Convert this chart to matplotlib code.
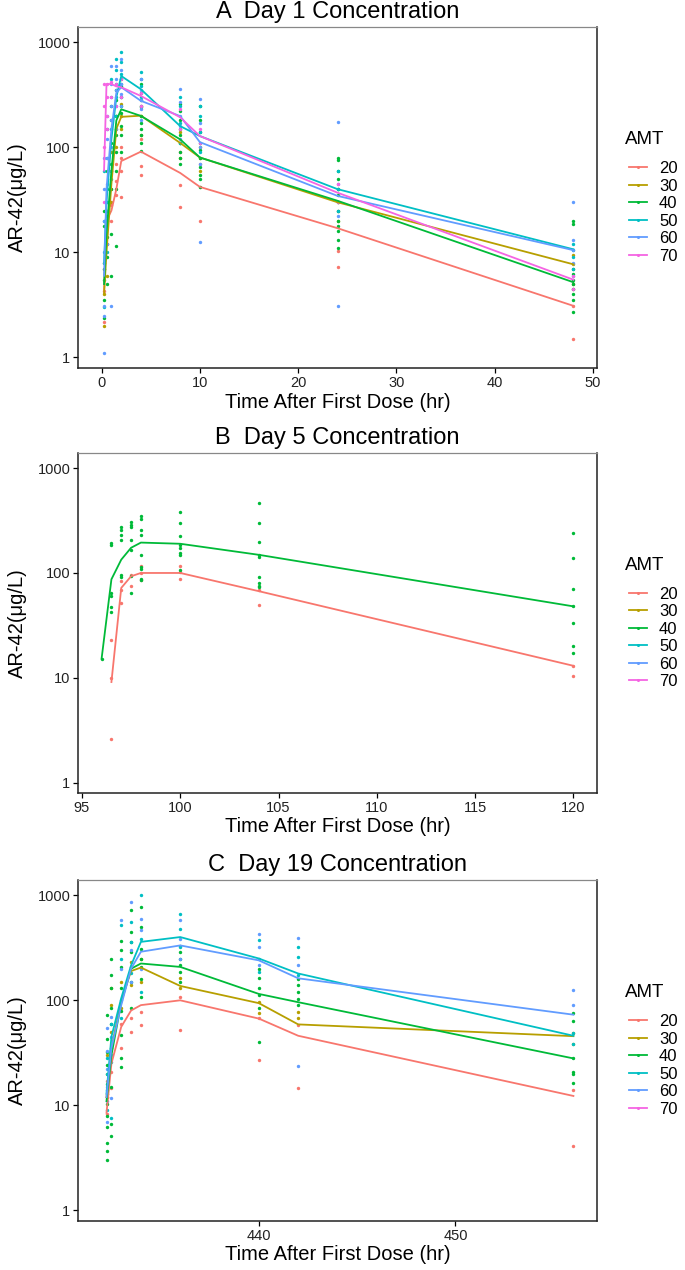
import numpy as np
import matplotlib
matplotlib.use('Agg')
import matplotlib.pyplot as plt
from matplotlib.lines import Line2D

plt.rcParams['font.family'] = ['Liberation Sans', 'DejaVu Sans']

DOSES = [20, 30, 40, 50, 60, 70]
COLORS = ['#F8766D', '#B79F00', '#00BA38', '#00BFC4', '#619CFF', '#F564E3']

# ---- Panel A: Day 1 ----
A_TIMES = [0.25, 0.5, 1, 1.5, 2, 4, 8, 10, 24, 48]
A_MEAN = {
    20: [4.3, 20, 25, 40, 74, 91, 57, 42, 17, 3.1],
    30: [4, 10, 45, 150, 195, 200, 110, 80, 30, 7.7],
    40: [5, 15, 60, 180, 230, 199, 119, 80, 31, 5.2],
    50: [8, 30, 120, 300, 477, 357, 159, 128, 40, 10.7],
    60: [6, 40, 150, 330, 373, 277, 198, 112, 34.5, 10.5],
    70: [60, 400, 400, 380, 373, 308, 193, 128, 37, 5.5],
}
A_OBS = {
    20: [[2.2, 4.3, 7], [12, 20, 30], [20, 28, 40], [35, 48, 70], [34, 60, 80, 100],
         [55, 66, 120], [27, 44, 90], [20, 42, 70], [7.2, 10.3, 25], [1.5, 3.1, 4.5]],
    30: [[2.0, 4, 8], [6, 12, 25], [30, 60, 90], [100, 150, 200], [150, 200, 260],
         [130, 200, 250], [80, 110, 140], [60, 80, 100], [20, 30, 40], [5, 7.7, 9.5]],
    40: [[2.4, 3.5, 5.5, 7, 18, 25], [5, 9, 14, 22, 40, 60], [6, 15, 40, 70, 110, 180, 250],
         [11.5, 40, 60, 90, 130, 200, 280, 350], [90, 130, 160, 210, 250, 300, 380, 450],
         [93, 110, 130, 150, 170, 200, 240, 280, 330, 400], [69, 80, 90, 110, 130, 150, 180, 220, 260],
         [42, 50, 55, 65, 80, 95, 110, 140, 180, 245],
         [11, 13, 16, 18, 20, 25, 30, 35, 40, 50, 60, 75, 80],
         [2.7, 3.5, 4, 4.5, 5, 5.5, 6.2, 7, 18.6, 20]],
    50: [[3, 8, 20, 60], [10, 30, 80, 150], [50, 150, 300, 450], [200, 300, 400, 550, 690],
         [300, 400, 500, 650, 800], [250, 300, 380, 450, 518], [110, 170, 250, 300],
         [90, 140, 200, 250], [25, 40, 60], [7, 9, 10.5, 12]],
    60: [[1.1, 2.5, 3.1, 10, 20, 40, 80], [12, 25, 45, 80, 120, 200], [3.1, 60, 100, 180, 250, 400, 594],
         [150, 250, 350, 450, 600], [250, 320, 400, 550, 700], [180, 230, 280, 350, 450],
         [120, 160, 200, 270, 357], [12.6, 70, 100, 170, 288], [3.1, 22, 30, 45, 173],
         [6, 8, 10.5, 13, 30]],
    70: [[30, 100, 250, 400], [150, 200, 300, 400], [300, 420], [250, 400], [300, 450],
         [250, 330], [150, 230], [110, 150], [30, 45], [4.5, 6]],
}

# ---- Panel B: Day 5 ----
B_TIMES = [96, 96.5, 97, 97.5, 98, 100, 104, 120]
B_MEAN = {
    20: [np.nan, 9.1, 72, 93, 100, 100, 67, 13],
    40: [15.2, 87, 134, 174, 195, 190, 149, 48],
}
B_OBS = {
    20: [[], [2.6, 10, 23], [52, 69, 83], [75, 95], [86, 100, 117], [87, 102, 117],
         [49.5, 69], [10.5, 13]],
    40: [[15.2], [42, 47, 60, 65, 186, 192], [91, 96, 208, 230, 257, 277],
         [65, 93, 166, 208, 277, 288, 309], [85, 88, 110, 114, 147, 229, 257, 331, 348],
         [107, 148, 155, 173, 186, 224, 302, 380], [73, 75, 81, 91, 142, 147, 199, 299, 468],
         [17.4, 20, 33, 48, 71, 138, 240]],
}

# ---- Panel C: Day 19 ----
C_TIMES = [432.25, 432.5, 433, 433.5, 434, 436, 440, 442, 456]
C_MEAN = {
    20: [8.5, 25, 56, 80, 90, 100, 67, 46, 12.3],
    30: [12, 35, 100, 190, 205, 137, 94, 59, 45.6],
    40: [11, 30, 95, 200, 224, 208, 115, 96, 28],
    50: [13, 45, 105, 215, 360, 400, 250, 180, 46],
    60: [12, 35, 90, 200, 290, 333, 240, 162, 73],
}
C_OBS = {
    20: [[8.2, 12, 17], [14.7, 21], [35, 60], [50, 68], [58.6, 78], [52.6, 108],
         [27.3, 68], [14.7, 58.6], [4.1, 14.1]],
    30: [[12, 20, 30], [50, 90, 130], [84, 150], [140, 232], [151, 250], [130, 162],
         [76, 97], [68, 78], [38, 49]],
    40: [[3.0, 3.7, 4.4, 6.2, 8, 10.3, 12.7, 16, 24.5, 32, 42.5, 73],
         [5.1, 6.6, 15, 35, 60, 84, 130, 174, 250],
         [23, 28, 47, 80, 130, 207, 300, 370], [84, 150, 207, 289, 360, 447, 716],
         [108, 160, 207, 250, 310, 500, 770], [150, 187, 216, 250, 289, 330],
         [40.5, 84, 113, 130, 162, 200], [90, 104, 121, 140, 160],
         [16.4, 19.7, 21, 28, 63, 75]],
    50: [[9, 14, 20, 28], [7.6, 26, 60], [68, 250, 523], [180, 359, 556], [121, 386, 1000],
         [323, 480, 665], [187, 250, 373], [174, 259, 323], [38, 49]],
    60: [[7, 11, 15, 22, 32.7, 54], [11.8, 30, 45, 70], [100, 200, 580], [150, 300, 860],
         [200, 464, 597], [250, 386, 576], [216, 323, 430], [23.6, 216, 392], [90, 125]],
}

PANELS = [
    ('A  Day 1 Concentration', A_TIMES, A_MEAN, A_OBS, [0, 10, 20, 30, 40, 50]),
    ('B  Day 5 Concentration', B_TIMES, B_MEAN, B_OBS, [95, 100, 105, 110, 115, 120]),
    ('C  Day 19 Concentration', C_TIMES, C_MEAN, C_OBS, [440, 450]),
]
X_RANGES = [(0, 48), (96, 120), (432, 456)]

W, H = 685, 1270
LEFT, RIGHT = 78, 597
TOPS = [27, 453, 880]
BOTTOMS = [368, 793, 1221]
AW = RIGHT - LEFT

fig = plt.figure(figsize=(W / 100, H / 100), dpi=100)
fig.patch.set_facecolor('white')

for (title, times, means, obs, xticks), (x0, x1), top, bot in zip(PANELS, X_RANGES, TOPS, BOTTOMS):
    ax = fig.add_axes([LEFT / W, 1 - bot / H, AW / W, (bot - top) / H])
    hpx = bot - top
    for dose, col in zip(DOSES, COLORS):
        if dose not in obs:
            continue
        for t, vals in zip(times, obs[dose]):
            ax.scatter([t] * len(vals), vals, s=6, color=col, linewidths=0, zorder=2)
    for dose, col in zip(DOSES, COLORS):
        if dose not in means:
            continue
        ax.plot(times, means[dose], color=col, lw=1.3, zorder=3)

    ax.set_yscale('log')
    ax.set_ylim(10 ** -0.1, 10 ** 3.145)
    pad = (x1 - x0) * 0.05
    ax.set_xlim(x0 - pad, x1 + pad)
    ax.set_yticks([1, 10, 100, 1000])
    ax.set_yticklabels(['1', '10', '100', '1000'])
    ax.yaxis.set_minor_locator(matplotlib.ticker.NullLocator())
    ax.set_xticks(xticks)
    ax.tick_params(axis='both', labelsize=10.5, length=3.5, width=0.9, pad=2,
                   colors='black', labelcolor='#222222')
    for side in ['left', 'bottom', 'right']:
        ax.spines[side].set_color('#222222')
        ax.spines[side].set_linewidth(1.1)
    ax.spines['top'].set_color('#888888')
    ax.spines['top'].set_linewidth(0.9)

    ax.text(0.5, 1 + 15 / hpx, title, transform=ax.transAxes, ha='center', va='center',
            fontsize=17, color='black')
    ax.set_xlabel('Time After First Dose (hr)', fontsize=14.5, va='center')
    ax.xaxis.set_label_coords(0.5, -34 / hpx)
    ax.set_ylabel('AR-42(\u03bcg/L)', fontsize=14.5, va='center')
    ax.yaxis.set_label_coords(-61 / AW, 0.5)

    # legend: entries block centred 15 px below panel middle, title 30 px above first entry
    handles = [Line2D([0], [0], color=c, lw=1.3, marker='o', markersize=2.2,
                      markeredgewidth=0) for c in COLORS]
    ax.legend(handles, [str(d) for d in DOSES], loc='center left',
              bbox_to_anchor=(1 + 32 / AW, 0.5 - 15 / hpx), frameon=False,
              fontsize=12, handlelength=1.1, handletextpad=0.7,
              labelspacing=0.15, borderaxespad=0, borderpad=0)
    ax.text(1 + 28 / AW, 0.5 + 58 / hpx, 'AMT', transform=ax.transAxes,
            ha='left', va='center', fontsize=13.5, color='black')

fig.savefig('out.png', dpi=100, facecolor='white')
